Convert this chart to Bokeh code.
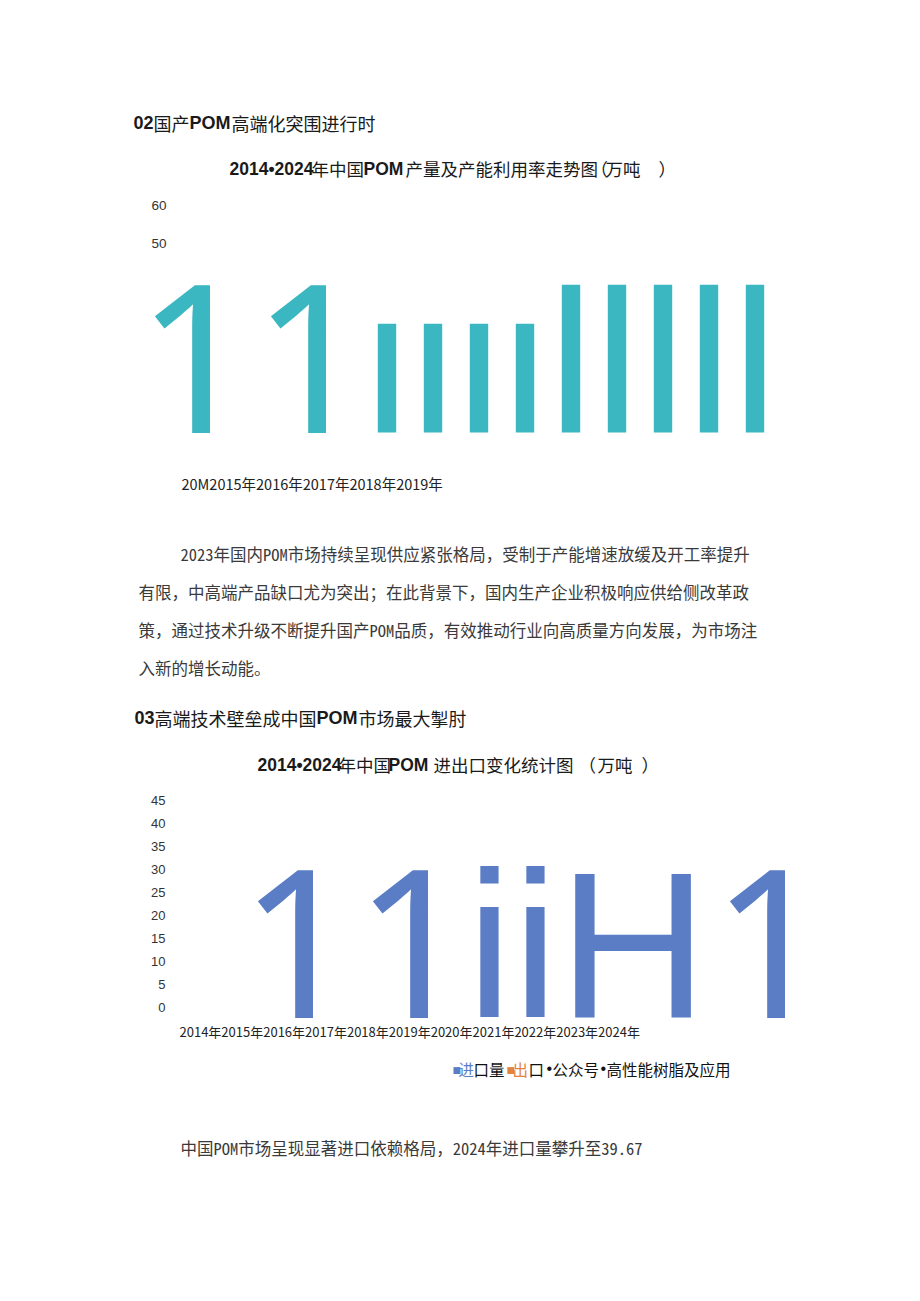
from bokeh.plotting import figure
from bokeh.models import Range1d
from bokeh.embed import file_html
from bokeh.resources import INLINE
from bokeh.core.properties import value

# ---------------- data ----------------
prod_years = [2016, 2017, 2018, 2019, 2020, 2021, 2022, 2023, 2024]
prod_values = [28.7, 28.7, 28.7, 28.7, 39.0, 39.0, 39.0, 39.0, 39.0]
prod_ticks = [60, 50]
prod_glyph_run = "11"
prod_xlabels = "20M2015年2016年2017年2018年2019年"

trade_ticks = [45, 40, 35, 30, 25, 20, 15, 10, 5, 0]
trade_glyph_run = "11iiH1"
trade_xlabels = "2014年2015年2016年2017年2018年2019年2020年2021年2022年2023年2024年"

heading_02 = [("02", True), ("国产", False), ("POM", True), ("高端化突围进行时", False)]
title_1 = [("2014•2024", True), ("年中国", False), ("POM", True),
           ("产量及产能利用率走势图", False), ("（", False), ("万吨", False), ("）", False)]
para_1 = ["2023年国内POM市场持续呈现供应紧张格局，受制于产能增速放缓及开工率提升",
          "有限，中高端产品缺口尤为突出；在此背景下，国内生产企业积极响应供给侧改革政",
          "策，通过技术升级不断提升国产POM品质，有效推动行业向高质量方向发展，为市场注",
          "入新的增长动能。"]
heading_03 = [("03", True), ("高端技术壁垒成中国", False), ("POM", True), ("市场最大掣肘", False)]
title_2 = [("2014•2024", True), ("年中国", False), ("POM", True),
           ("进出口变化统计图", False), ("（", False), ("万吨", False), ("）", False)]
legend_items = [("■", "blue"), ("进", "blue"), ("口量", "black"), ("■", "orange"),
                ("出", "orange"), ("口", "black"), ("•", "black"), ("公众号", "black"),
                ("•", "black"), ("高性能树脂及应用", "black")]
para_2 = "中国POM市场呈现显著进口依赖格局，2024年进口量攀升至39.67"

# ---------------- styles / layout ----------------
TEAL = "#3bb7c1"
BLUE = "#5b7dc6"
ORANGE = "#e2843f"
INK = "#1a1a1a"
BODY = "#3a3a3a"
CJK = "Noto Sans CJK SC"
LAT = "Liberation Sans"
ONE_FONT = "Noto Sans"
BODY_FONT = "Noto Sans Mono CJK SC, Noto Sans CJK SC"

W, H = 900, 1280

p = figure(width=W, height=H, output_backend="svg", toolbar_location=None,
           x_range=Range1d(0, W), y_range=Range1d(H, 0),
           x_axis_location=None, y_axis_location=None, min_border=0,
           outline_line_color=None, background_fill_color="white",
           border_fill_color="white")
p.grid.grid_line_color = None

C1_YEAR0, C1_PX0, C1_PPY = 2016, 386.5, 46.0
C1_BASE, C1_PPU = 432.0, 3.79
p.extra_x_ranges["c1x"] = Range1d(C1_YEAR0 - C1_PX0 / C1_PPY,
                                  C1_YEAR0 + (W - C1_PX0) / C1_PPY)
p.extra_y_ranges["c1y"] = Range1d((C1_BASE - H) / C1_PPU, C1_BASE / C1_PPU)

C2_BASE, C2_PPU = 1007.0, 4.6
p.extra_y_ranges["c2y"] = Range1d((C2_BASE - H) / C2_PPU, C2_BASE / C2_PPU)


def pieces(parts, xs, y, size, color=INK):
    for (s, bold), x in zip(parts, xs):
        p.text(x=[x], y=[y], text=[s], text_font=value(LAT if bold else CJK),
               text_font_style="bold" if bold else "normal",
               text_font_size=f"{size}px", text_color=color,
               text_align="left", text_baseline="middle")


def line(x, y, s, size, font=CJK, color=BODY, align="left"):
    p.text(x=[x], y=[y], text=[s], text_font=value(font), text_font_size=f"{size}px",
           text_color=color, text_align=align, text_baseline="middle")


GLYPH_SIZE = "207px"
SHIFT_ONE = -74   # empirical baseline correction (Noto Sans)
SHIFT_LAT = -72   # empirical baseline correction (Liberation Sans)


def glyph_run(run, anchors, baseline, color):
    # draws the chart's OCR glyph run one character at a time
    for ch, x in zip(run, anchors):
        if ch == "1":
            font, align, shift = ONE_FONT, "left", SHIFT_ONE
        else:
            font, align, shift = LAT, "center", SHIFT_LAT
        p.text(x=[x], y=[baseline + shift], text=[ch], text_font=value(font),
               text_font_size=GLYPH_SIZE, text_color=color, text_align=align,
               text_baseline="alphabetic")


pieces(heading_02, [133, 153, 189, 231], 122, 18)
pieces(title_1, [229, 311, 363, 405, 590, 605, 658], 168, 17.5)

p.text(x=[166] * len(prod_ticks), y=prod_ticks, text=[str(t) for t in prod_ticks],
       y_range_name="c1y", text_font=value(LAT), text_font_size="13.5px",
       text_color="#333333", text_align="right", text_baseline="middle")
p.vbar(x=prod_years, top=prod_values, bottom=0, width=0.4,
       x_range_name="c1x", y_range_name="c1y", fill_color=TEAL, line_color=None)
glyph_run(prod_glyph_run, [136, 252], C1_BASE, TEAL)
line(181, 483, prod_xlabels, 14.5, color="#222222")

for i, s in enumerate(para_1):
    line(180 if i == 0 else 138, 553 + 38 * i, s, 16.5, font=BODY_FONT)

pieces(heading_03, [134, 154, 316, 358], 717, 18)
pieces(title_2, [257, 338, 388, 433, 578, 597, 641], 764, 17.5)

p.text(x=[165] * len(trade_ticks), y=trade_ticks, text=[str(t) for t in trade_ticks],
       y_range_name="c2y", text_font=value(LAT), text_font_size="13px",
       text_color="#333333", text_align="right", text_baseline="middle")
glyph_run(trade_glyph_run, [239, 354, 489, 535, 632.5, 711], 1017, BLUE)
line(179, 1031, trade_xlabels, 13, color="#222222")

cmap = {"blue": BLUE, "orange": ORANGE, "black": "#111111"}
for (s, c), x in zip(legend_items, [452, 458, 473, 506, 512, 528, 546, 552, 600, 606]):
    if s == "■":
        p.text(x=[x], y=[1069], text=[s], text_font=value("DejaVu Sans"),
               text_font_size="9px", text_color=cmap[c], text_align="left",
               text_baseline="middle")
    elif s == "•":
        p.text(x=[x], y=[1068], text=[s], text_font=value(LAT),
               text_font_size="16px", text_color=cmap[c], text_align="left",
               text_baseline="middle")
    else:
        line(x, 1068, s, 15.5, color=cmap[c])

line(180, 1147, para_2, 16.5, font=BODY_FONT)

open("out.html", "w").write(file_html(p, INLINE))
